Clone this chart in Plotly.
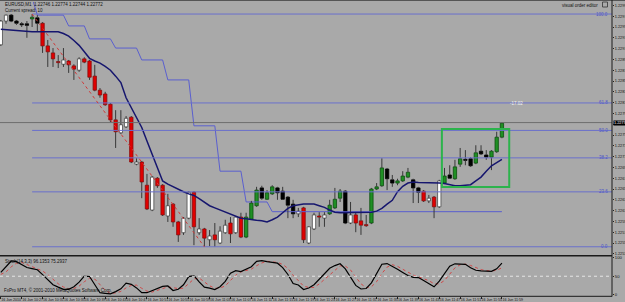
import plotly.graph_objects as go

# ---------------- data ----------------
bars = list(range(97))
opens = [1.22917,1.22961,1.22972,1.22961,1.22956,1.22956,1.22965,1.22967,1.22957,1.22915,
         1.22902,1.22886,1.22881,1.22887,1.22878,1.22870,1.22891,1.22887,1.22859,1.22833,
         1.22826,1.22807,1.22778,1.22754,1.22765,1.22783,1.22696,1.22700,1.22657,1.22611,
         1.22670,1.22657,1.22600,1.22622,1.22589,1.22569,1.22596,1.22644,1.22569,1.22576,
         1.22556,1.22565,1.22550,1.22569,1.22587,1.22569,1.22598,1.22561,1.22594,1.22619,
         1.22652,1.22631,1.22641,1.22652,1.22646,1.22635,1.22622,1.22604,1.22615,1.22550,
         1.22576,1.22600,1.22596,1.22604,1.22615,1.22633,1.22646,1.22587,1.22602,1.22591,
         1.22584,1.22587,1.22650,1.22656,1.22687,1.22667,1.22661,1.22665,1.22672,1.22667,
         1.22652,1.22646,1.22628,1.22635,1.22617,1.22661,1.22676,1.22669,1.22696,1.22705,
         1.22706,1.22698,1.22720,1.22713,1.22709,1.22719,1.22746]
highs = [1.22963,1.22973,1.22974,1.22963,1.22959,1.22961,1.22974,1.22972,1.22959,1.22926,
         1.22911,1.22898,1.22911,1.22889,1.22881,1.22894,1.22894,1.22889,1.22880,1.22837,
         1.22830,1.22809,1.22796,1.22796,1.22785,1.22785,1.22707,1.22702,1.22678,1.22674,
         1.22672,1.22659,1.22641,1.22624,1.22591,1.22598,1.22646,1.22646,1.22596,1.22578,
         1.22574,1.22587,1.22581,1.22593,1.22598,1.22600,1.22606,1.22606,1.22628,1.22654,
         1.22656,1.22648,1.22657,1.22654,1.22654,1.22637,1.22630,1.22615,1.22617,1.22581,
         1.22606,1.22607,1.22607,1.22630,1.22652,1.22650,1.22648,1.22626,1.22607,1.22615,
         1.22602,1.22652,1.22661,1.22707,1.22689,1.22676,1.22669,1.22683,1.22689,1.22669,
         1.22654,1.22648,1.22639,1.22637,1.22667,1.22689,1.22694,1.22704,1.22726,1.22722,
         1.22709,1.22731,1.22731,1.22722,1.22722,1.22756,1.22774]
lows = [1.22915,1.22956,1.22959,1.22954,1.22950,1.22930,1.22950,1.22941,1.22902,1.22876,
        1.22876,1.22874,1.22876,1.22865,1.22852,1.22867,1.22883,1.22852,1.22831,1.22819,
        1.22804,1.22774,1.22726,1.22752,1.22763,1.22698,1.22694,1.22633,1.22611,1.22609,
        1.22652,1.22600,1.22589,1.22580,1.22552,1.22565,1.22594,1.22546,1.22565,1.22543,
        1.22544,1.22543,1.22548,1.22567,1.22550,1.22567,1.22559,1.22559,1.22593,1.22617,
        1.22630,1.22630,1.22639,1.22630,1.22630,1.22596,1.22596,1.22598,1.22550,1.22548,
        1.22574,1.22580,1.22580,1.22602,1.22613,1.22626,1.22585,1.22585,1.22570,1.22565,
        1.22580,1.22585,1.22648,1.22654,1.22648,1.22654,1.22657,1.22663,1.22670,1.22624,
        1.22624,1.22626,1.22624,1.22596,1.22615,1.22659,1.22669,1.22667,1.22691,1.22694,
        1.22691,1.22696,1.22713,1.22704,1.22685,1.22717,1.22744]
closes = [1.22961,1.22972,1.22961,1.22957,1.22954,1.22953,1.22968,1.22957,1.22915,1.22904,
          1.22891,1.22884,1.22889,1.22880,1.22872,1.22891,1.22885,1.22857,1.22833,1.22824,
          1.22806,1.22778,1.22756,1.22769,1.22781,1.22700,1.22700,1.22663,1.22613,1.22672,
          1.22656,1.22602,1.22619,1.22589,1.22565,1.22596,1.22644,1.22580,1.22576,1.22559,
          1.22563,1.22556,1.22572,1.22583,1.22567,1.22598,1.22561,1.22598,1.22624,1.22648,
          1.22633,1.22643,1.22654,1.22643,1.22631,1.22620,1.22604,1.22609,1.22556,1.22580,
          1.22602,1.22598,1.22602,1.22620,1.22631,1.22646,1.22587,1.22602,1.22587,1.22583,
          1.22582,1.22650,1.22654,1.22689,1.22669,1.22661,1.22665,1.22674,1.22681,1.22652,
          1.22644,1.22628,1.22633,1.22617,1.22665,1.22674,1.22670,1.22691,1.22706,1.22703,
          1.22693,1.22717,1.22715,1.22709,1.22720,1.22746,1.22772]
candle_kind = ["w","w","k","k","k","k","g","k","r","r",
               "r","r","w","r","r","w","r","r","r","r",
               "r","r","r","w","w","r","w","r","r","w",
               "r","r","w","r","r","w","w","r","w","r",
               "w","r","w","w","r","w","r","g","g","g",
               "k","g","g","k","k","k","k","w","r","w",
               "w","r","w","g","g","g","k","w","r","r",
               "r","g","g","g","k","k","g","g","g","k",
               "k","r","w","r","w","g","k","g","g","k",
               "k","g","k","k","g","g","g"]
ma = [1.22946,1.22945,1.22944,1.22943,1.22943,1.22942,1.22941,1.22941,1.22941,1.22941,
      1.22941,1.22941,1.22938,1.22933,1.22925,1.22916,1.22904,1.22892,1.22887,1.22883,
      1.22877,1.22870,1.22859,1.22847,1.22819,1.22801,1.22783,1.22764,1.22739,1.22715,
      1.22689,1.22665,1.22659,1.22654,1.22650,1.22645,1.22641,1.22638,1.22632,1.22626,
      1.22619,1.22615,1.22611,1.22607,1.22603,1.22599,1.22596,1.22595,1.22593,1.22592,
      1.22591,1.22589,1.22593,1.22598,1.22606,1.22614,1.22619,1.22621,1.22622,1.22622,
      1.22622,1.22619,1.22616,1.22611,1.22607,1.22606,1.22606,1.22606,1.22606,1.22606,
      1.22606,1.22607,1.22609,1.22614,1.22622,1.22629,1.22645,1.22655,1.22661,1.22663,
      1.22662,1.22662,1.22662,1.22661,1.22661,1.22660,1.22658,1.22656,1.22656,1.22657,
      1.22658,1.22665,1.22672,1.22683,1.22693,1.22699,1.22705]
trail = [None,None,None,None,None,None,1.23004,
         1.22972,1.22972,1.22972,1.22972,1.22972,1.22972,
         1.22952,1.22952,1.22952,1.22952,
         1.22928,1.22928,1.22928,1.22928,1.22928,
         1.22911,1.22911,1.22911,1.22911,1.22911,
         1.22889,1.22889,1.22889,1.22889,1.22889,
         1.22852,1.22852,1.22852,1.22852,1.22852,
         1.22767,1.22767,1.22767,1.22767,1.22767,
         1.22683,1.22683,1.22683,1.22683,1.22683,
         1.22626,1.22626,1.22626,1.22626,1.22626,
         1.22608,1.22608,1.22608,1.22608,1.22608,1.22608,1.22608,1.22608,1.22608,1.22608,
         1.22608,1.22608,1.22608,1.22608,1.22608,1.22608,1.22608,1.22608,1.22608,1.22608,
         1.22608,1.22608,1.22608,1.22608,1.22608,1.22608,1.22608,1.22608,1.22608,1.22608,
         1.22608,1.22608,1.22608,1.22608,1.22608,1.22608,1.22608,1.22608,1.22608,1.22608,
         1.22608,1.22608,1.22608,1.22608,1.22608]
stoch_main = [60.5,75.3,91.8,89.9,82.2,74.0,70.7,67.7,54.5,41.1,
              26.9,20.3,14.2,14.2,21.1,33.7,50.1,49.3,27.4,4.9,
              3.3,1.6,7.9,15.6,31.0,27.9,18.1,4.9,4.9,10.4,
              17.5,22.2,23.3,11.0,14.2,26.6,49.0,51.8,34.5,20.0,
              17.3,13.7,21.4,35.9,58.1,65.2,62.7,70.1,75.9,90.7,
              92.6,89.9,87.7,85.8,73.7,54.8,29.9,26.0,13.7,17.8,
              26.9,41.9,55.1,71.8,79.2,84.1,70.1,47.7,24.9,15.1,
              16.4,32.1,57.3,83.0,84.7,77.5,69.0,60.5,52.3,47.1,
              46.3,38.1,29.3,21.1,36.7,57.3,77.5,84.1,82.7,82.7,
              73.4,66.3,64.7,64.9,63.6,70.4,85.8]
stoch_signal = [55,62,75.9,85.7,88,82,75.6,70.8,64.3,54.4,
                40.8,29.4,20.5,16.2,16.5,23,35,44.4,42.3,27.2,
                11.9,3.3,4.3,8.4,18.2,24.8,25.7,17,9.3,6.7,
                10.9,16.7,21,18.8,16.2,17.3,29.9,42.5,45.1,35.4,
                23.9,17,17.5,23.7,38.5,53.1,62,66,69.6,78.9,
                86.4,91.1,90.1,87.8,82.4,71.4,52.8,36.9,23.2,19.2,
                19.5,28.9,41.3,56.3,68.7,78.4,77.8,67.3,47.6,29.2,
                18.8,21.2,35.3,57.5,75,81.7,77.1,69,60.6,53.3,
                48.6,43.8,37.9,29.5,29,38.4,57.2,73,81.4,83.2,
                79.6,74.1,68.1,65.3,64.4,66.3,73.3]
time_tick_bars = [0,4,8,12,16,20,24,28,32,36,40,44,48,52,56,60,64,68,72,76,80,84,88,92,96]
time_labels = ["16 Jun 2010","16 Jun 10:27","16 Jun 10:31","16 Jun 10:35","16 Jun 10:39",
               "16 Jun 10:43","16 Jun 10:47","16 Jun 10:51","16 Jun 10:55","16 Jun 10:59",
               "16 Jun 11:03","16 Jun 11:07","16 Jun 11:11","16 Jun 11:15","16 Jun 11:19",
               "16 Jun 11:23","16 Jun 11:27","16 Jun 11:31","16 Jun 11:35","16 Jun 11:39",
               "16 Jun 11:43","16 Jun 11:47","16 Jun 11:51","16 Jun 11:55","16 Jun 11:59"]
price_ticks = [1.22990,1.22970,1.22950,1.22930,1.22910,1.22890,1.22870,1.22850,1.22830,1.22810,
               1.22790,1.22770,1.22750,1.22730,1.22710,1.22690,1.22670,1.22650,1.22630,1.22610,
               1.22590,1.22570,1.22550,1.22530]
fib_ratios = [0.0, 0.236, 0.382, 0.5, 0.618, 1.0]
fib_names = ["0.0", "23.6", "38.2", "50.0", "61.8", "100.0"]
fib_high_bar, fib_high = 6, 1.22974
fib_low_bar, fib_low = 39, 1.22543
current_price = 1.22773
box_bars = [84.5, 97.4]
box_prices = [1.226537, 1.227611]

# ---------------- styling ----------------
W, H = 625, 302
FONT = "Liberation Sans, Arial, sans-serif"
BG = "#a9a9a9"
XR = 612 / W
def py(p):
    return 1 - p / H

fill = {"r": "#e00000", "w": "#ffffff", "k": "#000000", "g": "#1f8f24"}
edge = {"r": "#8a0a0a", "w": "#4a4a4a", "k": "#000000", "g": "#0b4f0e"}

body_base = [min(o, c) for o, c in zip(opens, closes)]
body_h = [max(abs(c - o), 0.000006) for o, c in zip(opens, closes)]
wx, wy = [], []
for i, o, h, l, c in zip(bars, opens, highs, lows, closes):
    wx += [i, i, None, i, i, None]
    wy += [h, max(o, c), None, min(o, c), l, None]

fig = go.Figure()
fig.add_trace(go.Scatter(x=bars, y=trail, mode="lines", line=dict(color="#5a5fcf", width=1),
                         hoverinfo="skip", xaxis="x", yaxis="y", connectgaps=False))
fig.add_trace(go.Scatter(x=wx, y=wy, mode="lines", line=dict(color="#383838", width=1),
                         hoverinfo="skip", xaxis="x", yaxis="y"))
fig.add_trace(go.Bar(x=bars, y=body_h, base=body_base, width=0.64,
                     marker=dict(color=[fill[k] for k in candle_kind],
                                 line=dict(color=[edge[k] for k in candle_kind], width=0.8)),
                     xaxis="x", yaxis="y"))
fig.add_trace(go.Scatter(x=bars, y=ma, mode="lines", line=dict(color="#16166e", width=1.5),
                         xaxis="x", yaxis="y"))
fig.add_trace(go.Scatter(x=bars, y=stoch_signal, mode="lines",
                         line=dict(color="#d04848", width=1, dash="dot"), xaxis="x2", yaxis="y2"))
fig.add_trace(go.Scatter(x=bars, y=stoch_main, mode="lines",
                         line=dict(color="#000000", width=1.2), xaxis="x2", yaxis="y2"))

xr = [-0.153, (612 - 0.8) / 5.22]
shapes = []
fib_color = "#6a70cc"
annotations = []
for r, nm in zip(fib_ratios, fib_names):
    lv = fib_low + r * (fib_high - fib_low)
    shapes.append(dict(type="line", xref="x", yref="y", x0=fib_high_bar, x1=xr[1], y0=lv, y1=lv,
                       line=dict(color=fib_color, width=1)))
    annotations.append(dict(xref="paper", yref="y", x=610 / W, y=lv, text=nm, showarrow=False,
                            xanchor="right", yanchor="middle",
                            font=dict(size=4.5, color="#4d55c8", family=FONT)))
shapes.append(dict(type="line", xref="x", yref="y", x0=fib_high_bar, y0=fib_high, x1=fib_low_bar, y1=fib_low,
                   line=dict(color="#d03a3a", width=1, dash="dot")))
shapes.append(dict(type="line", xref="paper", yref="y", x0=0, x1=XR, y0=current_price, y1=current_price,
                   line=dict(color="#6e6e6e", width=1)))
shapes.append(dict(type="rect", xref="x", yref="y", x0=box_bars[0], x1=box_bars[1],
                   y0=box_prices[0], y1=box_prices[1], line=dict(color="#2cb34c", width=2)))
# stochastic 50 level
shapes.append(dict(type="line", xref="paper", yref="y2", x0=0, x1=XR, y0=50, y1=50,
                   line=dict(color="#e6e6e6", width=1, dash="dot")))
# frame lines
shapes += [
    dict(type="line", xref="paper", yref="paper", x0=0, x1=1, y0=py(0.5), y1=py(0.5), line=dict(color="#555", width=1.2)),
    dict(type="line", xref="paper", yref="paper", x0=XR, x1=XR, y0=py(0), y1=py(296.5), line=dict(color="#1a1a1a", width=1)),
    dict(type="line", xref="paper", yref="paper", x0=0, x1=XR, y0=py(255.7), y1=py(255.7), line=dict(color="#1a1a1a", width=1.5)),
    dict(type="line", xref="paper", yref="paper", x0=0, x1=XR, y0=py(296.3), y1=py(296.3), line=dict(color="#1a1a1a", width=1)),
    dict(type="rect", xref="paper", yref="paper", x0=602.5 / W, x1=607.5 / W, y0=py(7), y1=py(2),
         line=dict(color="#333", width=0.8)),
]

small = dict(size=4.5, color="#111", family=FONT)
annotations += [
    dict(xref="paper", yref="paper", x=3 / W, y=py(0.5), text="EURUSD,M1  1.22746 1.22774 1.22744 1.22772",
         showarrow=False, xanchor="left", yanchor="top", font=small),
    dict(xref="paper", yref="paper", x=3 / W, y=py(6.2), text="Current spread: 10",
         showarrow=False, xanchor="left", yanchor="top", font=small),
    dict(xref="paper", yref="paper", x=600 / W, y=py(1.5), text="visual order editor",
         showarrow=False, xanchor="right", yanchor="top", font=small),
    dict(xref="paper", yref="paper", x=516 / W, y=py(103.5), text="-17.02",
         showarrow=False, xanchor="center", yanchor="middle", font=dict(size=4.5, color="#f4f4f4", family=FONT)),
    dict(xref="paper", yref="y", x=612.5 / W, y=current_price, text="1.22773", showarrow=False,
         xanchor="left", yanchor="middle", bgcolor="#000000", borderpad=0,
         font=dict(size=3.8, color="#ffffff", family=FONT)),
    dict(xref="paper", yref="paper", x=3 / W, y=py(257), text="Stoch(14,3,3) 96.1353 75.2937",
         showarrow=False, xanchor="left", yanchor="top", font=small),
    dict(xref="paper", yref="paper", x=2 / W, y=py(295), text="FxPro MT4, © 2001-2010 MetaQuotes Software Corp.",
         showarrow=False, xanchor="left", yanchor="bottom", font=small),
]

# MT4 hides the scale label that sits under the current-price marker
price_ticktext = ["" if abs(p - current_price) < 0.00008 else f"{p:.5f}" for p in price_ticks]

fig.update_layout(
    width=W, height=H, margin=dict(l=0, r=0, t=0, b=0, autoexpand=False),
    paper_bgcolor=BG, plot_bgcolor=BG, showlegend=False, barmode="overlay",
    font=dict(family=FONT, size=5, color="#111"),
    shapes=shapes, annotations=annotations,
    xaxis=dict(domain=[0, XR], range=xr, anchor="y", showticklabels=False, showgrid=False,
               zeroline=False, showline=False, ticks="", automargin=False),
    xaxis2=dict(domain=[0, XR], range=xr, anchor="y2", matches="x", showgrid=False, zeroline=False,
                showline=False, tickvals=time_tick_bars, ticktext=time_labels, tickangle=0,
                ticks="outside", ticklen=2, tickcolor="#222", ticklabelposition="outside right",
                tickfont=dict(size=3.6, color="#111", family=FONT), automargin=False),
    yaxis=dict(domain=[py(255), py(2)], range=[1.23 - 255 / 54000, 1.23 - 2 / 54000], anchor="x",
               side="right", showgrid=False, zeroline=False, showline=False,
               tickvals=price_ticks, ticktext=price_ticktext,
               ticks="outside", ticklen=1, tickcolor="#222", automargin=False,
               tickfont=dict(size=3.8, color="#111", family=FONT)),
    yaxis2=dict(domain=[py(296), py(257)], range=[-4.1, 102.7], anchor="x2", side="right",
                showgrid=False, zeroline=False, showline=False,
                tickvals=[0, 50, 100], ticktext=["0", "50", "100"],
                ticks="outside", ticklen=1, tickcolor="#222", automargin=False,
                tickfont=dict(size=4.2, color="#111", family=FONT)),
)

fig.write_html("out.html", config={"displayModeBar": False})
